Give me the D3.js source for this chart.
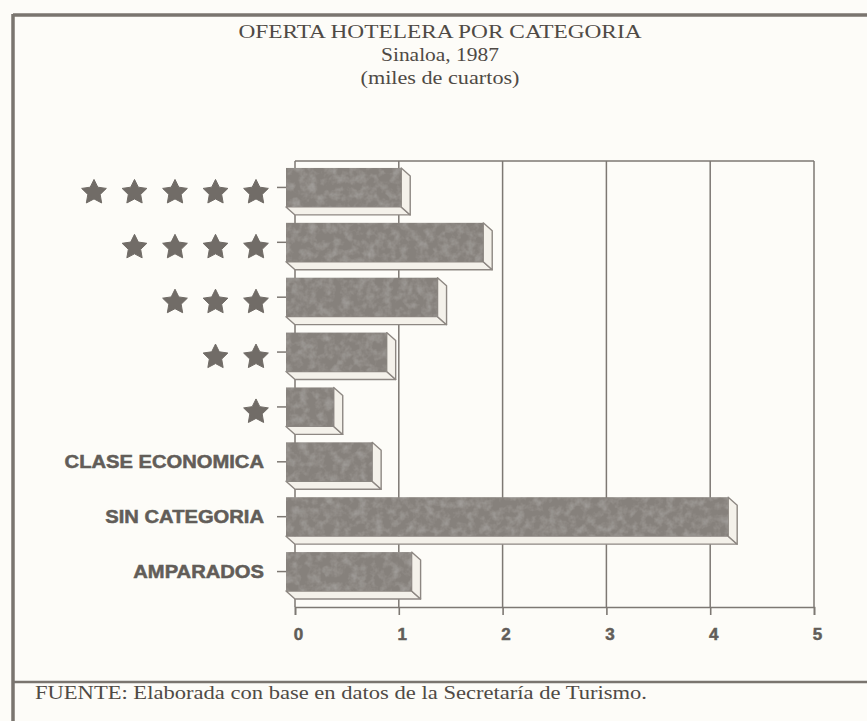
<!DOCTYPE html>
<html>
<head>
<meta charset="utf-8">
<script src="https://cdn.jsdelivr.net/npm/d3@7"></script>
<style>
  html, body { margin: 0; padding: 0; background: #fdfcf8; }
  svg { display: block; }
</style>
</head>
<body>
<svg id="chart"></svg>
<script>
const categories = ["★★★★★", "★★★★", "★★★", "★★", "★", "CLASE ECONOMICA", "SIN CATEGORIA", "AMPARADOS"]
const values = [1.11, 1.90, 1.46, 0.97, 0.46, 0.83, 4.26, 1.21]
const xTicks = [0, 1, 2, 3, 4, 5]
const titleLines = ["OFERTA HOTELERA POR CATEGORIA", "Sinaloa, 1987", "(miles de cuartos)"]
const source = "FUENTE: Elaborada con base en datos de la Secretaría de Turismo."

const WIDTH = 867
const HEIGHT = 721
const PLOT = { top: 161, bottom: 607, left: 295, right: 814 }
const DEPTH = { x: 9, y: 8 }

const LINE = "#7d7873"
const INK = "#4f4a45"
const LABEL = "#625d58"
const FACE = "#86817c"
const SIDE = "#f4f1ea"

const svg = d3.select("#chart")
    .attr("width", WIDTH)
    .attr("height", HEIGHT)

// mottled print texture for the bar faces
const defs = svg.append("defs")
const grain = defs.append("filter").attr("id", "grain").attr("x", 0).attr("y", 0).attr("width", 1).attr("height", 1)
grain.append("feTurbulence").attr("type", "fractalNoise").attr("baseFrequency", 0.12).attr("numOctaves", 3).attr("seed", 4).attr("result", "noise")
grain.append("feColorMatrix").attr("in", "noise").attr("type", "matrix")
    .attr("values", "0 0 0 0 1  0 0 0 0 1  0 0 0 0 1  1 0 0 0 -0.4")
    .attr("result", "spots")
grain.append("feComposite").attr("in", "spots").attr("in2", "SourceGraphic").attr("operator", "in").attr("result", "clip")
grain.append("feComponentTransfer").attr("in", "clip").attr("result", "soft")
    .append("feFuncA").attr("type", "linear").attr("slope", 0.3)
const merge = grain.append("feMerge")
merge.append("feMergeNode").attr("in", "SourceGraphic")
merge.append("feMergeNode").attr("in", "soft")

svg.append("rect")
    .attr("width", WIDTH)
    .attr("height", HEIGHT)
    .attr("fill", "#fdfcf8")

// outer frame
svg.append("line")
    .attr("x1", 13).attr("x2", WIDTH).attr("y1", 15).attr("y2", 15)
    .attr("stroke", "#7a756f").attr("stroke-width", 3.5)
svg.append("line")
    .attr("x1", 13).attr("x2", 13).attr("y1", 14).attr("y2", HEIGHT)
    .attr("stroke", "#7a756f").attr("stroke-width", 3.5)
svg.append("line")
    .attr("x1", 13).attr("x2", WIDTH).attr("y1", 682).attr("y2", 682)
    .attr("stroke", "#7a756f").attr("stroke-width", 2.5)

// titles
const titleY = [38, 61, 84]
const titleW = [403, 118, 159]
svg.selectAll(".title")
    .data(titleLines)
    .enter()
    .append("text")
    .classed("title", true)
    .attr("x", 440)
    .attr("y", (d, i) => titleY[i])
    .attr("text-anchor", "middle")
    .attr("textLength", (d, i) => titleW[i])
    .attr("lengthAdjust", "spacingAndGlyphs")
    .style("font-family", "'Liberation Serif', 'Times New Roman', serif")
    .style("font-size", "18px")
    .style("fill", INK)
    .text(d => d)

svg.append("text")
    .attr("x", 35)
    .attr("y", 699)
    .attr("textLength", 612)
    .attr("lengthAdjust", "spacingAndGlyphs")
    .style("font-family", "'Liberation Serif', 'Times New Roman', serif")
    .style("font-size", "18px")
    .style("fill", INK)
    .text(source)

const x = d3.scaleLinear().domain([0, 5]).range([PLOT.left, PLOT.right])
const y = d3.scaleBand()
    .domain(categories)
    .range([160, 599])
    .paddingInner(0.29)
    .paddingOuter(0.145)

const chart = svg.append("g")

// grid frame
chart.selectAll(".grid")
    .data(xTicks)
    .enter()
    .append("line")
    .classed("grid", true)
    .attr("x1", d => x(d)).attr("x2", d => x(d))
    .attr("y1", PLOT.top).attr("y2", PLOT.bottom)
    .attr("stroke", LINE).attr("stroke-width", 1.5)

chart.append("line")
    .attr("x1", x(0)).attr("x2", x(5))
    .attr("y1", PLOT.top).attr("y2", PLOT.top)
    .attr("stroke", LINE).attr("stroke-width", 1.5)

// bottom axis
const axis = chart.append("g")
    .attr("transform", `translate(0, ${PLOT.bottom})`)
    .call(d3.axisBottom(x).tickValues(xTicks).tickSize(8).tickPadding(13).tickFormat(d3.format("d")))
axis.attr("font-size", 17).attr("font-family", "'Liberation Sans', Arial, sans-serif")
axis.selectAll("path, line").attr("stroke", LINE).attr("stroke-width", 1.6)
axis.selectAll("text")
    .attr("dx", 3)
    .attr("font-weight", "bold")
    .attr("fill", LABEL)
    .attr("stroke", LABEL)
    .attr("stroke-width", 0.5)

// 3d bars
const bars = chart.selectAll(".bar")
    .data(categories)
    .enter()
    .append("g")
    .classed("bar", true)

const bw = y.bandwidth()

bars.append("path")
    .attr("d", (d, i) => {
        const x0 = x(0) - DEPTH.x, x1 = x(values[i]) - DEPTH.x
        const b = y(d) + bw
        return `M${x0},${b} L${x0 + DEPTH.x},${b + DEPTH.y} L${x1 + DEPTH.x},${b + DEPTH.y} L${x1},${b} Z`
    })
    .attr("fill", SIDE).attr("stroke", "#8d8782").attr("stroke-width", 1.4)
    .attr("stroke-linejoin", "round")

bars.append("path")
    .attr("d", (d, i) => {
        const x1 = x(values[i]) - DEPTH.x
        const t = y(d), b = y(d) + bw
        return `M${x1},${t} L${x1 + DEPTH.x},${t + DEPTH.y} L${x1 + DEPTH.x},${b + DEPTH.y} L${x1},${b} Z`
    })
    .attr("fill", SIDE).attr("stroke", "#8d8782").attr("stroke-width", 1.4)
    .attr("stroke-linejoin", "round")

bars.append("rect")
    .attr("x", x(0) - DEPTH.x)
    .attr("y", d => y(d))
    .attr("width", (d, i) => x(values[i]) - x(0))
    .attr("height", bw)
    .attr("fill", FACE)
    .attr("filter", "url(#grain)")

// y ticks
chart.selectAll(".ytick")
    .data(categories)
    .enter()
    .append("line")
    .classed("ytick", true)
    .attr("x1", x(0) - DEPTH.x - 9).attr("x2", x(0) - DEPTH.x)
    .attr("y1", d => y(d) + bw / 2).attr("y2", d => y(d) + bw / 2)
    .attr("stroke", LINE).attr("stroke-width", 1.5)

// category labels: stars drawn as symbols, words as text
const starType = {
    draw(context, size) {
        const r = Math.sqrt(size / 3)
        const inner = r * 0.5
        for (let k = 0; k < 10; k++) {
            const rad = k % 2 ? inner : r
            const a = -Math.PI / 2 + k * Math.PI / 5
            const px = Math.cos(a) * rad, py = Math.sin(a) * rad
            if (k === 0) context.moveTo(px, py)
            else context.lineTo(px, py)
        }
        context.closePath()
    }
}
const starPath = d3.symbol().type(starType).size(3 * 13 * 13)()

const labelEnd = x(0) - DEPTH.x - 22

categories.forEach(cat => {
    const cy = y(cat) + bw / 2
    if (/^★+$/.test(cat)) {
        const n = cat.length
        d3.range(n).forEach(k => {
            chart.append("path")
                .attr("d", starPath)
                .attr("transform", `translate(${labelEnd - 8 - (n - 1 - k) * 40.5}, ${cy + 5})`)
                .attr("fill", "#716c67")
                .attr("stroke", "#716c67")
                .attr("stroke-width", 1)
                .attr("stroke-linejoin", "round")
        })
    } else {
        const t = chart.append("text")
            .attr("x", labelEnd)
            .attr("y", cy + 6.5)
            .attr("text-anchor", "end")
            .style("font-family", "'Liberation Sans', Arial, sans-serif")
            .style("font-weight", "bold")
            .style("font-size", "18px")
            .style("fill", LABEL)
            .style("stroke", LABEL)
            .style("stroke-width", "0.5px")
            .text(cat)
        const len = t.node().getComputedTextLength()
        t.attr("textLength", len * 1.12).attr("lengthAdjust", "spacingAndGlyphs")
    }
})
</script>
</body>
</html>
